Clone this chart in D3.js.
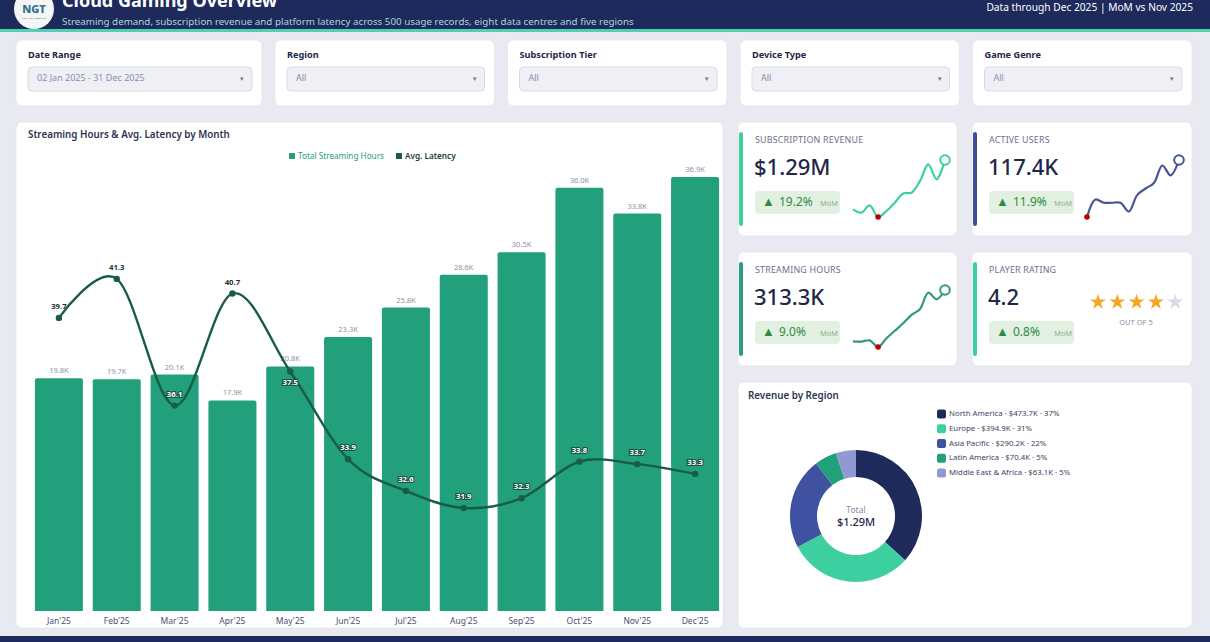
<!DOCTYPE html>
<html lang="en">
<head>
<meta charset="UTF-8">
<title>Cloud Gaming Overview</title>
<script src="https://d3js.org/d3.v7.min.js"></script>
<style>
    body { margin: 0; background: #e8e9f1; overflow: hidden; }
    svg text { font-family: "Noto Sans", sans-serif; }
    .xaxis path { display: none; }
    .xaxis text { font-size: 8.5px; fill: #4a5070; }
</style>
</head>
<body>
<svg id="dash"></svg>
<script>
    // monthly series (streaming hours in thousands, latency in ms)
    var months = ["Jan'25", "Feb'25", "Mar'25", "Apr'25", "May'25", "Jun'25",
                  "Jul'25", "Aug'25", "Sep'25", "Oct'25", "Nov'25", "Dec'25"];
    var streamingHours = [19.8, 19.7, 20.1, 17.9, 20.8, 23.3, 25.8, 28.6, 30.5, 36.0, 33.8, 36.9];
    var avgLatency = [39.7, 41.3, 36.1, 40.7, 37.5, 33.9, 32.6, 31.9, 32.3, 33.8, 33.7, 33.3];
    // sparkline series (thousands)
    var revenueMonthly = [88.4, 84.3, 93.4, 78.8, 86.3, 96.7, 108.3, 109.2, 123.7, 144.6, 125.9, 150.1];
    var activeUsersMonthly = [7.5, 9.1, 8.8, 8.8, 8.8, 8.0, 9.5, 10.1, 10.6, 12.2, 11.3, 12.7];

    // regions
    var regions = ["North America", "Europe", "Asia Pacific", "Latin America", "Middle East & Africa"];
    var regionRevenue = [473.7, 394.9, 290.2, 70.4, 63.1];
    var regionShare = [37, 31, 22, 5, 5];
    var regionColors = ["#1e2a5a", "#3ecfa0", "#3f51a0", "#21a07b", "#8f9ad2"];

    // filters
    var filterLabels = ["Date Range", "Region", "Subscription Tier", "Device Type", "Game Genre"];
    var filterValues = ["02 Jan 2025 - 31 Dec 2025", "All", "All", "All", "All"];

    // KPI cards
    var kpiTitles = ["SUBSCRIPTION REVENUE", "ACTIVE USERS", "STREAMING HOURS", "PLAYER RATING"];
    var kpiValues = ["$1.29M", "117.4K", "313.3K", "4.2"];
    var kpiChanges = ["19.2%", "11.9%", "9.0%", "0.8%"];
    var playerRating = 4.2;

    var W = 1210, H = 642;
    var svg = d3.select("#dash").attr("width", W).attr("height", H);

    svg.append("rect").attr("width", W).attr("height", H).attr("fill", "#e8e9f1");

    // ---------- header ----------
    svg.append("rect").attr("width", W).attr("height", 29).attr("fill", "#1e2a5c");
    svg.append("rect").attr("y", 29).attr("width", W).attr("height", 3).attr("fill", "#4fd1b0");
    svg.append("rect").attr("y", 636).attr("width", W).attr("height", 6).attr("fill", "#1e2a5c");

    var logo = svg.append("g").attr("transform", "translate(34,9)");
    logo.append("circle").attr("r", 20).attr("fill", "#f3f6f4");
    logo.append("text").attr("y", 4).attr("text-anchor", "middle")
        .style("font-size", "11px").style("font-weight", 800).attr("fill", "#2b6f8e").text("NGT");
    logo.append("text").attr("y", 10).attr("text-anchor", "middle")
        .style("font-size", "2.5px").attr("fill", "#667").text("NEXT GEN TOOLKITS");

    // the page is scrolled a little, so the title sits partly above the top edge
    svg.append("text").attr("x", 62).attr("y", 7)
        .style("font-size", "18px").style("font-weight", 700).attr("fill", "#fff")
        .text("Cloud Gaming Overview");
    svg.append("text").attr("x", 62).attr("y", 25)
        .style("font-size", "9.8px").attr("fill", "#a6d6da")
        .text("Streaming demand, subscription revenue and platform latency across 500 usage records, eight data centres and five regions");
    svg.append("text").attr("x", 1193).attr("y", 10.5).attr("text-anchor", "end")
        .style("font-size", "10.2px").attr("fill", "#fff")
        .text("Data through Dec 2025 | MoM vs Nov 2025");

    function card(x, y, w, h) {
        return svg.append("rect").attr("x", x).attr("y", y).attr("width", w).attr("height", h)
            .attr("rx", 6).attr("fill", "#fff").attr("stroke", "#dfe1ea").attr("stroke-width", 0.6);
    }

    // ---------- filters ----------
    var fx = 16;
    filterLabels.forEach(function (lab, i) {
        var w = i === 0 ? 246 : 219.5;
        card(fx, 40, w, 66);
        svg.append("text").attr("x", fx + 12).attr("y", 55).attr("dominant-baseline", "middle")
            .style("font-size", "9.2px").style("font-weight", 700).attr("fill", "#1f2748").text(lab);
        svg.append("rect").attr("x", fx + 12).attr("y", 67).attr("width", w - 22).attr("height", 24)
            .attr("rx", 4).attr("fill", "#eef0f6").attr("stroke", "#d9dce6");
        svg.append("text").attr("x", fx + 21).attr("y", 79).attr("dominant-baseline", "middle")
            .style("font-size", "9px").attr("fill", "#8a8fa3").text(filterValues[i]);
        svg.append("text").attr("x", fx + w - 22).attr("y", 79).attr("dominant-baseline", "middle")
            .style("font-size", "7px").attr("fill", "#777").text("▾");
        fx += w + 13;
    });

    // ---------- main combo chart ----------
    card(16, 122, 707, 506);
    svg.append("text").attr("x", 28).attr("y", 135).attr("dominant-baseline", "middle")
        .style("font-size", "9.8px").style("font-weight", 600).attr("fill", "#2d3450")
        .text("Streaming Hours & Avg. Latency by Month");

    // legend
    svg.append("rect").attr("x", 289).attr("y", 153).attr("width", 6).attr("height", 6).attr("fill", "#21a07b");
    svg.append("text").attr("x", 298).attr("y", 157).attr("dominant-baseline", "middle")
        .style("font-size", "8.2px").attr("fill", "#2a9d7c").text("Total Streaming Hours");
    svg.append("rect").attr("x", 396).attr("y", 153).attr("width", 6).attr("height", 6).attr("fill", "#185c48");
    svg.append("text").attr("x", 405).attr("y", 157).attr("dominant-baseline", "middle")
        .style("font-size", "8.2px").style("font-weight", 600).attr("fill", "#1f3b34").text("Avg. Latency");

    var x = d3.scaleBand().domain(months).range([30, 724]).paddingInner(0.17).paddingOuter(0.085);
    var y = d3.scaleLinear().domain([0, 37.5]).range([611, 170]);
    var yLat = d3.scaleLinear().domain([27.67, 45.77]).range([611, 170]);

    svg.selectAll(".bar")
        .data(streamingHours)
        .enter()
        .append("path")
        .classed("bar", true)
        .attr("d", function (d, i) {
            var x0 = x(months[i]), w = x.bandwidth(), y0 = y(d), y1 = y(0), r = 2;
            return "M" + x0 + "," + y1 + "V" + (y0 + r) + "Q" + x0 + "," + y0 + " " + (x0 + r) + "," + y0 +
                "H" + (x0 + w - r) + "Q" + (x0 + w) + "," + y0 + " " + (x0 + w) + "," + (y0 + r) + "V" + y1 + "Z";
        })
        .attr("fill", "#21a07b");

    svg.selectAll(".barlab")
        .data(streamingHours)
        .enter()
        .append("text")
        .attr("x", function (d, i) { return x(months[i]) + x.bandwidth() / 2; })
        .attr("y", function (d) { return y(d) - 5; })
        .attr("text-anchor", "middle")
        .style("font-size", "7.5px")
        .attr("fill", "#8b90a3")
        .text(function (d) { return d.toFixed(1) + "K"; });

    svg.append("g").attr("class", "xaxis")
        .attr("transform", "translate(0,611)")
        .call(d3.axisBottom(x).tickSize(0).tickPadding(7));

    var lat = d3.line()
        .x(function (d, i) { return x(months[i]) + x.bandwidth() / 2; })
        .y(function (d) { return yLat(d); })
        .curve(d3.curveCatmullRom.alpha(0));
    svg.append("path").datum(avgLatency).attr("d", lat)
        .attr("fill", "none").attr("stroke", "#185c48").attr("stroke-width", 2.4);

    svg.selectAll(".latpt")
        .data(avgLatency)
        .enter()
        .append("circle")
        .attr("cx", function (d, i) { return x(months[i]) + x.bandwidth() / 2; })
        .attr("cy", function (d) { return yLat(d); })
        .attr("r", 3.2)
        .attr("fill", "#185c48");

    // latency labels: above the point unless it would hit the bar value label
    avgLatency.forEach(function (d, i) {
        var px = x(months[i]) + x.bandwidth() / 2, py = yLat(d);
        var ly = py - 11;
        var barLabY = y(streamingHours[i]) - 8;
        if (Math.abs(ly - barLabY) < 9) ly = py + 11;
        var inside = ly > y(streamingHours[i]);
        var t = svg.append("text").attr("x", px).attr("y", ly).attr("text-anchor", "middle")
            .attr("dominant-baseline", "middle")
            .style("font-size", "7.8px").style("font-weight", 700)
            .text(d.toFixed(1));
        if (inside) {
            t.attr("fill", "#fff").attr("stroke", "#1b4d40").attr("stroke-width", 2.2)
                .attr("paint-order", "stroke").attr("stroke-linejoin", "round");
        } else {
            t.attr("fill", "#27332f");
        }
    });

    // ---------- KPI cards ----------
    var kpiPos = [[738, 122], [972, 122], [738, 252], [972, 252]];
    var accent = ["#3ecfa0", "#3f4f96", "#2a9d7c", "#3ecfa0"];
    var sparkColor = ["#3ecfa0", "#475596", "#2f9a78"];
    var sparkData = [revenueMonthly, activeUsersMonthly, streamingHours];

    function sparkline(values, color, x0, y0) {
        var sx = d3.scaleLinear().domain([0, values.length - 1]).range([x0, x0 + 92]);
        var sy = d3.scaleLinear().domain(d3.extent(values)).range([y0 + 57, y0]);
        var line = d3.line().x(function (d, i) { return sx(i); }).y(function (d) { return sy(d); })
            .curve(d3.curveCatmullRom);
        svg.append("path").datum(values).attr("d", line)
            .attr("fill", "none").attr("stroke", color).attr("stroke-width", 2.2);
        var iMin = d3.minIndex(values);
        svg.append("circle").attr("cx", sx(iMin)).attr("cy", sy(values[iMin])).attr("r", 2.8).attr("fill", "#c00000");
        var last = values.length - 1;
        svg.append("circle").attr("cx", sx(last)).attr("cy", sy(values[last])).attr("r", 4.8)
            .attr("fill", "#fff").attr("stroke", color).attr("stroke-width", 2);
    }

    kpiTitles.forEach(function (t, i) {
        var cx = kpiPos[i][0], cy = kpiPos[i][1], w = i % 2 ? 220 : 219;
        card(cx, cy, w, 114);
        svg.append("rect").attr("x", cx + 1).attr("y", cy + 10).attr("width", 4).attr("height", 94)
            .attr("rx", 2).attr("fill", accent[i]);
        svg.append("text").attr("x", cx + 17).attr("y", cy + 19).attr("dominant-baseline", "middle")
            .style("font-size", "8.9px").style("letter-spacing", "0.2px").attr("fill", "#6b7089").text(t);
        svg.append("text").attr("x", cx + 16).attr("y", cy + 47).attr("dominant-baseline", "middle")
            .style("font-size", "22px").style("font-weight", 500).attr("fill", "#1f2748").text(kpiValues[i]);
        svg.append("rect").attr("x", cx + 17).attr("y", cy + 69).attr("width", 85).attr("height", 23)
            .attr("rx", 4).attr("fill", "#e2f0e2");
        svg.append("text").attr("x", cx + 24).attr("y", cy + 81).attr("dominant-baseline", "middle")
            .style("font-size", "13px").attr("fill", "#2e8b3e").text("▲");
        svg.append("text").attr("x", cx + 41).attr("y", cy + 81).attr("dominant-baseline", "middle")
            .style("font-size", "12px").attr("fill", "#2e8b3e").text(kpiChanges[i]);
        svg.append("text").attr("x", cx + 82).attr("y", cy + 82).attr("dominant-baseline", "middle")
            .style("font-size", "7.5px").attr("fill", "#8db08f").text("MoM");
        if (i < 3) sparkline(sparkData[i], sparkColor[i], cx + 115, cy + 38);
    });

    // rating stars
    var stars = d3.range(5);
    var star = d3.symbol().type(d3.symbolStar).size(78);
    svg.selectAll(".star")
        .data(stars)
        .enter()
        .append("path")
        .attr("d", star)
        .attr("transform", function (d) { return "translate(" + (1098 + d * 19.3) + ",302)"; })
        .attr("fill", function (d) { return d < Math.floor(playerRating) ? "#f5a623" : "#d8dae6"; });
    svg.append("text").attr("x", 1136).attr("y", 323).attr("text-anchor", "middle")
        .attr("dominant-baseline", "middle")
        .style("font-size", "7.5px").attr("fill", "#8a8fa0").text("OUT OF 5");

    // ---------- donut ----------
    card(738, 382, 454, 246);
    svg.append("text").attr("x", 748).attr("y", 396).attr("dominant-baseline", "middle")
        .style("font-size", "9.8px").style("font-weight", 600).attr("fill", "#2d3450")
        .text("Revenue by Region");

    var pie = d3.pie().sort(null).value(function (d) { return d; });
    var arc = d3.arc().innerRadius(39).outerRadius(66);
    var donut = svg.append("g").attr("transform", "translate(856,516)");
    donut.selectAll("path")
        .data(pie(regionRevenue))
        .enter()
        .append("path")
        .attr("d", arc)
        .attr("fill", function (d, i) { return regionColors[i]; });
    donut.append("text").attr("y", -5).attr("text-anchor", "middle").attr("dominant-baseline", "middle")
        .style("font-size", "8.5px").attr("fill", "#8a8fa0").text("Total");
    donut.append("text").attr("y", 7).attr("text-anchor", "middle").attr("dominant-baseline", "middle")
        .style("font-size", "11px").style("font-weight", 500).attr("fill", "#1f2748")
        .text("$" + (d3.sum(regionRevenue) / 1000).toFixed(2) + "M");

    var leg = svg.append("g");
    regions.forEach(function (r, i) {
        var ly = 414 + i * 14.75;
        leg.append("rect").attr("x", 937).attr("y", ly - 4.5).attr("width", 9).attr("height", 9)
            .attr("rx", 2).attr("fill", regionColors[i]);
        leg.append("text").attr("x", 949).attr("y", ly).attr("dominant-baseline", "middle")
            .style("font-size", "7.8px").attr("fill", "#3d4361")
            .text(r + " · $" + regionRevenue[i].toFixed(1) + "K · " + regionShare[i] + "%");
    });
</script>
</body>
</html>
